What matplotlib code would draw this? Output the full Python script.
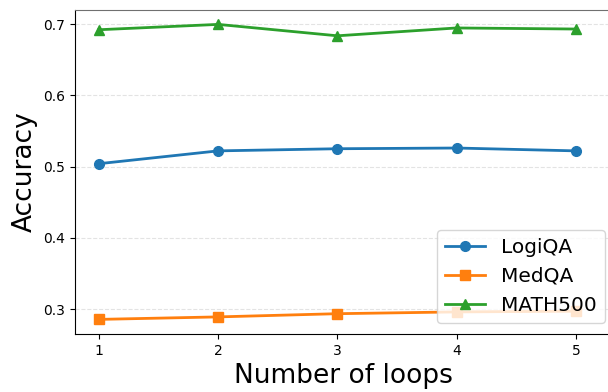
import numpy as np
import matplotlib.pyplot as plt

loops = [1, 2, 3, 4, 5]
logiqa = [0.504, 0.522, 0.525, 0.526, 0.522]
medqa = [0.2855, 0.289, 0.2935, 0.296, 0.297]
math500 = [0.692, 0.6995, 0.6835, 0.6945, 0.693]

fig = plt.figure(figsize=(6.08, 3.92), dpi=100)
ax = fig.add_axes([75 / 608, 1 - 334 / 392, 537 / 608, 324 / 392])

ax.plot(loops, logiqa, marker="o", color="#1f77b4", lw=2, ms=7, label="LogiQA")
ax.plot(loops, medqa, marker="s", color="#ff7f0e", lw=2, ms=7, label="MedQA")
ax.plot(loops, math500, marker="^", color="#2ca02c", lw=2, ms=7, label="MATH500")

ax.set_xlim(0.8, 0.8 + 537 / 119.25)
ax.set_ylim(0.265, 0.7197)
ax.set_xticks(loops)
ax.set_yticks([0.3, 0.4, 0.5, 0.6, 0.7])
ax.tick_params(labelsize=10)
ax.grid(axis="y", linestyle="--", color="#dddddd", alpha=0.8)
ax.spines["right"].set_visible(False)
ax.spines["top"].set_color("#707070")

ax.set_xlabel("Number of loops", fontsize=19)
ax.set_ylabel("Accuracy", fontsize=19)
ax.legend(fontsize=14.5, loc="lower right", bbox_to_anchor=(605 / 608, 1 - 323 / 392),
          bbox_transform=fig.transFigure, borderaxespad=0)

fig.savefig("out.png", dpi=100)
